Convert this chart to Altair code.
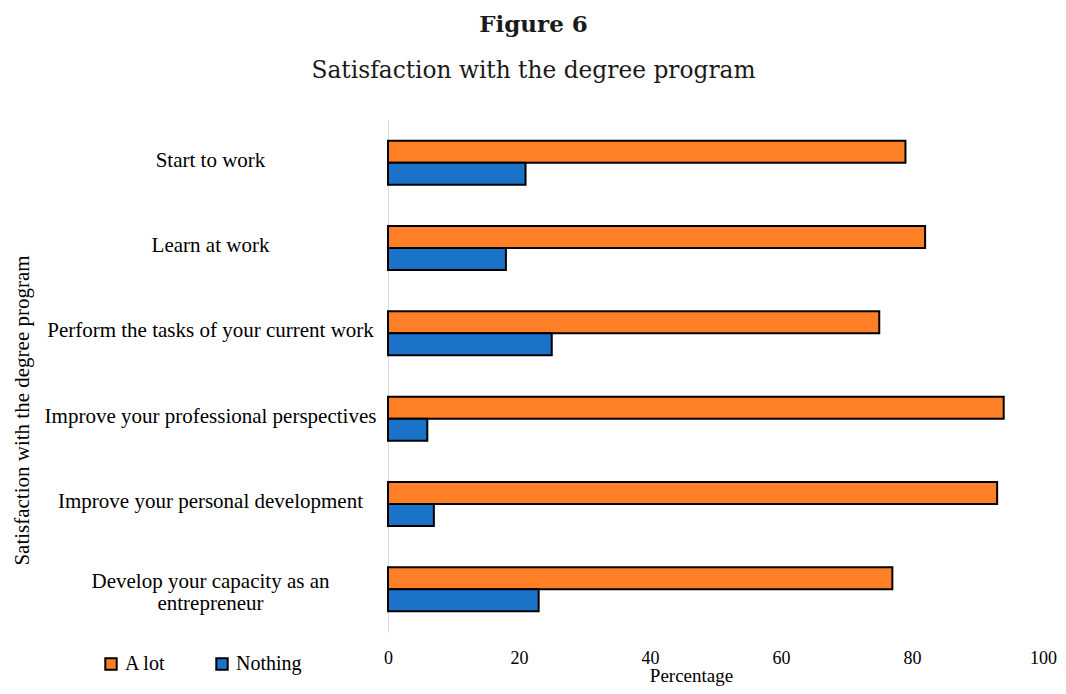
import altair as alt
import pandas as pd

categories = [
    "Start to work",
    "Learn at work",
    "Perform the tasks of your current work",
    "Improve your professional perspectives",
    "Improve your personal development",
    "Develop your capacity as an entrepreneur",
]
a_lot = [79, 82, 75, 94, 93, 77]
nothing = [21, 18, 25, 6, 7, 23]
series = ["A lot", "Nothing"]
colors = ["#ff7f27", "#1a73c8"]
x_ticks = [0, 20, 40, 60, 80, 100]

rows = []
for c, a, n in zip(categories, a_lot, nothing):
    rows.append({"item": c, "series": "A lot", "value": a})
    rows.append({"item": c, "series": "Nothing", "value": n})
df = pd.DataFrame(rows)

serif = "Liberation Serif"
long_label = "Develop your capacity as an entrepreneur"

label_expr = (f"datum.label == '{long_label}' ? "
              "['Develop your capacity as an', 'entrepreneur'] : datum.label")

chart = alt.Chart(df).mark_bar(stroke="black", strokeWidth=2).encode(
    x=alt.X("value:Q", title="Percentage",
            scale=alt.Scale(domain=[0, 100], nice=False),
            axis=alt.Axis(values=x_ticks, grid=False, domain=False, ticks=False,
                          labelFlush=False,
                          labelFont=serif, labelFontSize=18, labelColor="black",
                          labelPadding=17, titleFont=serif, titleFontSize=19,
                          titleFontWeight="normal", titleColor="black",
                          titleX=303, titleY=43, titleAlign="center",
                          titleBaseline="middle")),
    y=alt.Y("item:N", sort=categories, title="Satisfaction with the degree program",
            scale=alt.Scale(paddingInner=0.485, paddingOuter=0.2425),
            axis=alt.Axis(ticks=False, domain=True, domainColor="#d9d9d9",
                          domainWidth=1, labelAlign="center", labelPadding=178,
                          labelBaseline="middle", labelExpr=label_expr,
                          labelOffset={"condition": {"test": f"datum.label == '{long_label}'",
                                                     "value": -7},
                                       "value": -2},
                          labelFont=serif, labelFontSize=21, labelColor="black",
                          labelLineHeight=22, labelLimit=400,
                          titleFont=serif, titleFontSize=21, titleFontWeight="normal",
                          titleColor="black", titleX=-366, titleY=290,
                          titleAlign="center", titleBaseline="middle")),
    yOffset=alt.YOffset("series:N", sort=series, scale=alt.Scale(paddingInner=0, paddingOuter=0)),
    color=alt.Color("series:N", sort=series,
                    scale=alt.Scale(domain=series, range=colors),
                    legend=alt.Legend(title=None, orient="none", direction="horizontal",
                                      legendX=-287, legendY=534,
                                      symbolType="square", symbolSize=130,
                                      symbolStrokeColor="black", symbolStrokeWidth=2,
                                      labelFont=serif, labelFontSize=20,
                                      labelColor="black", columnPadding=46,
                                      labelOffset=4)),
).properties(
    width=655,
    height=512,
    title=alt.TitleParams(
        text="Figure 6",
        subtitle="Satisfaction with the degree program",
        font="DejaVu Serif", fontSize=23, fontWeight="bold", color="#1a1a1a",
        subtitleFont="DejaVu Serif", subtitleFontSize=23.3, subtitleColor="#1a1a1a",
        subtitlePadding=23, anchor="middle", dx=-182, offset=38,
    ),
    autosize=alt.AutoSizeParams(type="none"),
    padding={"left": 380, "top": 112, "right": 15, "bottom": 54},
).configure_view(stroke=None)

chart.save("out.html", embed_options={"renderer": "svg", "actions": False})
